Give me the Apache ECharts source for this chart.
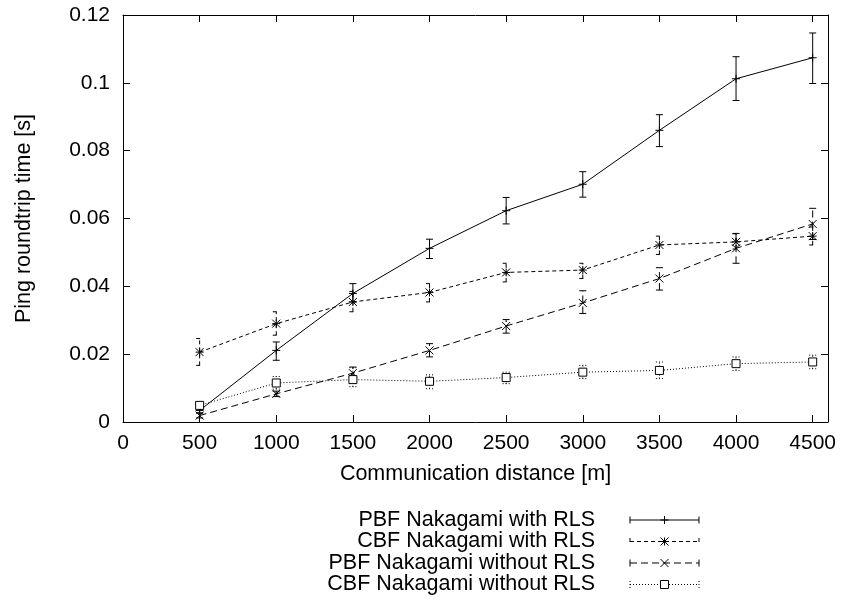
<!DOCTYPE html>
<html>
<head>
<meta charset="utf-8">
<script src="https://cdn.jsdelivr.net/npm/echarts@6/dist/echarts.min.js"></script>
<style>
  html, body { margin: 0; padding: 0; background: #fff; }
  #chart { width: 843px; height: 600px; }
</style>
</head>
<body>
<div id="chart"></div>
<script>
// Communication distance in metres
const distances = [500, 1000, 1500, 2000, 2500, 3000, 3500, 4000, 4500];

// Ping round-trip time [s]: mean, lower and upper bounds per distance
const pbfWithRls      = [0.0034, 0.0211, 0.0379, 0.0512, 0.0623, 0.0701, 0.0860, 0.1012, 0.1074];
const pbfWithRlsLow   = [0.0027, 0.0182, 0.0354, 0.0482, 0.0584, 0.0663, 0.0812, 0.0948, 0.0998];
const pbfWithRlsHigh  = [0.0041, 0.0236, 0.0408, 0.0539, 0.0662, 0.0738, 0.0906, 0.1077, 0.1147];

const cbfWithRls      = [0.0206, 0.0290, 0.0354, 0.0382, 0.0441, 0.0448, 0.0522, 0.0531, 0.0548];
const cbfWithRlsLow   = [0.0167, 0.0256, 0.0325, 0.0354, 0.0413, 0.0423, 0.0494, 0.0510, 0.0522];
const cbfWithRlsHigh  = [0.0246, 0.0325, 0.0385, 0.0408, 0.0468, 0.0468, 0.0548, 0.0555, 0.0575];

const pbfNoRls        = [0.0019, 0.0083, 0.0144, 0.0211, 0.0283, 0.0351, 0.0423, 0.0512, 0.0584];
const pbfNoRlsLow     = [0.0012, 0.0075, 0.0125, 0.0192, 0.0262, 0.0320, 0.0389, 0.0468, 0.0538];
const pbfNoRlsHigh    = [0.0026, 0.0091, 0.0162, 0.0231, 0.0302, 0.0387, 0.0455, 0.0556, 0.0630];

const cbfNoRls        = [0.0049, 0.0115, 0.0125, 0.0120, 0.0131, 0.0147, 0.0152, 0.0172, 0.0177];
const cbfNoRlsLow     = [0.0040, 0.0097, 0.0104, 0.0098, 0.0113, 0.0128, 0.0128, 0.0152, 0.0157];
const cbfNoRlsHigh    = [0.0058, 0.0134, 0.0160, 0.0139, 0.0147, 0.0167, 0.0177, 0.0192, 0.0197];

const seriesNames = [
  'PBF Nakagami with RLS',
  'CBF Nakagami with RLS',
  'PBF Nakagami without RLS',
  'CBF Nakagami without RLS'
];

const FONT = 'Liberation Sans, Arial, Helvetica, sans-serif';
const INK = '#000';

// line dash and point marker for each curve
const styles = [
  { dash: null,    marker: 'plus'   },
  { dash: [4, 3],  marker: 'star'   },
  { dash: [7, 4],  marker: 'cross'  },
  { dash: [1, 2],  marker: 'square' }
];

const groups = [
  [pbfWithRls, pbfWithRlsLow, pbfWithRlsHigh],
  [cbfWithRls, cbfWithRlsLow, cbfWithRlsHigh],
  [pbfNoRls, pbfNoRlsLow, pbfNoRlsHigh],
  [cbfNoRls, cbfNoRlsLow, cbfNoRlsHigh]
];

function markerShapes(kind, cx, cy) {
  const r = 4;
  const st = { stroke: INK, lineWidth: 1, fill: null };
  const seg = (x1, y1, x2, y2) => ({ type: 'line', shape: { x1, y1, x2, y2 }, style: st, silent: true });
  if (kind === 'plus') return [seg(cx - r, cy, cx + r, cy), seg(cx, cy - r, cx, cy + r)];
  if (kind === 'cross') return [seg(cx - r, cy - r, cx + r, cy + r), seg(cx - r, cy + r, cx + r, cy - r)];
  if (kind === 'star') return [
    seg(cx - r, cy, cx + r, cy), seg(cx, cy - r, cx, cy + r),
    seg(cx - r, cy - r, cx + r, cy + r), seg(cx - r, cy + r, cx + r, cy - r)
  ];
  return [{ type: 'rect', shape: { x: cx - 4, y: cy - 4, width: 8, height: 8 },
            style: { stroke: INK, lineWidth: 1, fill: '#fff' }, silent: true }];
}

function errorBarSeries(idx) {
  const [mean, low, high] = groups[idx];
  const st = styles[idx];
  const data = distances.map((d, i) => [d, mean[i], low[i], high[i]]);
  return {
    type: 'custom',
    name: seriesNames[idx],
    xAxisIndex: 0, yAxisIndex: 0,
    z: 3,
    data,
    encode: { x: 0, y: [1, 2, 3] },
    renderItem: function (params, api) {
      const x = api.value(0);
      const pMid = api.coord([x, api.value(1)]);
      const pLo = api.coord([x, api.value(2)]);
      const pHi = api.coord([x, api.value(3)]);
      const cap = 3.5;
      const ls = { stroke: INK, lineWidth: 1, lineDash: st.dash || null };
      const children = [
        { type: 'line', shape: { x1: pLo[0], y1: pLo[1], x2: pHi[0], y2: pHi[1] }, style: ls },
        { type: 'line', shape: { x1: pLo[0] - cap, y1: pLo[1], x2: pLo[0] + cap, y2: pLo[1] }, style: ls },
        { type: 'line', shape: { x1: pHi[0] - cap, y1: pHi[1], x2: pHi[0] + cap, y2: pHi[1] }, style: ls }
      ].concat(markerShapes(st.marker, pMid[0], pMid[1]));
      return { type: 'group', children };
    }
  };
}

function lineSeries(idx) {
  const mean = groups[idx][0];
  const st = styles[idx];
  return {
    type: 'line',
    name: seriesNames[idx],
    xAxisIndex: 0, yAxisIndex: 0,
    z: 2,
    data: distances.map((d, i) => [d, mean[i]]),
    showSymbol: false,
    symbol: 'none',
    lineStyle: { color: INK, width: 1, type: st.dash ? st.dash : 'solid' },
    animation: false
  };
}

const series = [];
for (let i = 0; i < 4; i++) {
  series.push(lineSeries(i));
  series.push(errorBarSeries(i));
}

// key drawn below the plot: right-aligned names, sample line with end caps and marker
const keyGraphics = [];
const keyY = [520, 541.5, 563, 584.5];
const keyTextRight = 595, keyX1 = 630, keyX2 = 699;
seriesNames.forEach((name, i) => {
  const y = keyY[i];
  const st = styles[i];
  const ls = { stroke: INK, lineWidth: 1, lineDash: st.dash || null };
  keyGraphics.push({
    type: 'text', x: keyTextRight, y: y,
    style: { text: name, font: '21.5px ' + FONT, fill: INK, textAlign: 'right', textVerticalAlign: 'middle' }
  });
  keyGraphics.push({ type: 'line', shape: { x1: keyX1, y1: y, x2: keyX2, y2: y }, style: ls });
  keyGraphics.push({ type: 'line', shape: { x1: keyX1, y1: y - 3.5, x2: keyX1, y2: y + 3.5 }, style: ls });
  keyGraphics.push({ type: 'line', shape: { x1: keyX2, y1: y - 3.5, x2: keyX2, y2: y + 3.5 }, style: ls });
  markerShapes(st.marker, (keyX1 + keyX2) / 2, y).forEach(s => keyGraphics.push(s));
});

const tickLabel = { color: INK, fontFamily: FONT, fontSize: 21 };
const frameLine = { show: true, onZero: false, lineStyle: { color: INK, width: 1 } };
const innerTick = { show: true, inside: true, length: 7, lineStyle: { color: INK, width: 1 } };

const option = {
  animation: false,
  backgroundColor: '#fff',
  grid: { left: 123, right: 15, top: 15, bottom: 178, containLabel: false },
  xAxis: [
    {
      type: 'value', min: 0, max: 4600, interval: 500, position: 'bottom',
      axisLine: frameLine, axisTick: innerTick, splitLine: { show: false },
      axisLabel: Object.assign({ margin: 11, showMaxLabel: false,
        formatter: v => (v % 500 === 0 ? String(v) : '') }, tickLabel),
      name: 'Communication distance [m]', nameLocation: 'middle', nameGap: 41,
      nameTextStyle: { color: INK, fontFamily: FONT, fontSize: 21.5 }
    },
    {
      type: 'value', min: 0, max: 4600, interval: 500, position: 'top',
      axisLine: frameLine, axisTick: innerTick, splitLine: { show: false },
      axisLabel: { show: false }
    }
  ],
  yAxis: [
    {
      type: 'value', min: 0, max: 0.12, interval: 0.02, position: 'left',
      axisLine: frameLine, axisTick: innerTick, splitLine: { show: false },
      axisLabel: Object.assign({ margin: 13, formatter: v => String(+v.toFixed(2)) }, tickLabel),
      name: 'Ping roundtrip time [s]', nameLocation: 'middle', nameGap: 88, nameRotate: 90,
      nameTextStyle: { color: INK, fontFamily: FONT, fontSize: 21.5 }
    },
    {
      type: 'value', min: 0, max: 0.12, interval: 0.02, position: 'right',
      axisLine: frameLine, axisTick: innerTick, splitLine: { show: false },
      axisLabel: { show: false }
    }
  ],
  series,
  graphic: keyGraphics
};

const chart = echarts.init(document.getElementById('chart'), null, { renderer: 'canvas' });
chart.setOption(option);
</script>
</body>
</html>
